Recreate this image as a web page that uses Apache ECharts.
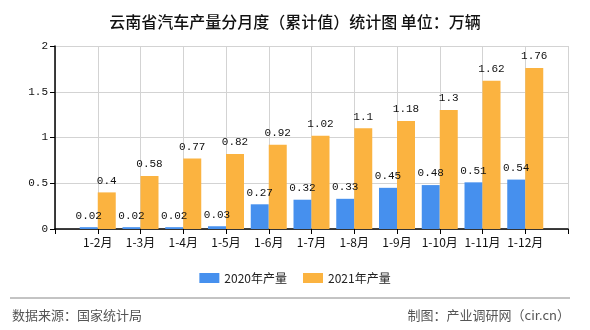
<!DOCTYPE html>
<html><head><meta charset="utf-8">
<script src="https://cdn.jsdelivr.net/npm/echarts@6/dist/echarts.min.js"></script>
<style>html,body{margin:0;padding:0;background:#fff}#c{width:590px;height:330px}</style>
</head><body><div id="c"></div>
<script>
var months = ['1-2月','1-3月','1-4月','1-5月','1-6月','1-7月','1-8月','1-9月','1-10月','1-11月','1-12月'];
var prod2020 = [0.02,0.02,0.02,0.03,0.27,0.32,0.33,0.45,0.48,0.51,0.54];
var prod2021 = [0.4,0.58,0.77,0.82,0.92,1.02,1.1,1.18,1.3,1.62,1.76];
var yTicks = [0,0.5,1,1.5,2];
var seriesNames = ['2020年产量','2021年产量'];

var cats = [''].concat(months).concat(['']);
function pad(a){ return [null].concat(a).concat([null]); }
var mono = 'Liberation Mono';
var cjk = '"Noto Sans CJK SC", sans-serif';
var chart = echarts.init(document.getElementById('c'));
chart.setOption({
  animation:false,
  title:{text:'云南省汽车产量分月度（累计值）统计图 单位：万辆',left:'center',top:9,
    textStyle:{fontFamily:cjk,fontSize:16,fontWeight:500,color:'#111'}},
  grid:{left:55,right:22,top:46,bottom:101},
  legend:{top:267,left:'center',icon:'rect',itemWidth:20,itemHeight:10,itemGap:16,
    textStyle:{fontFamily:cjk,fontSize:12,color:'#222'},data:seriesNames},
  xAxis:{type:'category',data:cats,boundaryGap:false,
    axisLine:{lineStyle:{color:'#000',width:1.5}},
    axisTick:{show:true,length:5,lineStyle:{color:'#000'}},
    axisLabel:{fontFamily:cjk,fontSize:12,color:'#111',margin:7,interval:0},
    splitLine:{show:true,lineStyle:{color:'#d3d3d3'}}},
  yAxis:{type:'value',min:yTicks[0],max:yTicks[yTicks.length-1],interval:0.5,
    axisLine:{show:true,lineStyle:{color:'#000',width:1.5}},
    axisTick:{show:true,length:5,lineStyle:{color:'#000'}},
    axisLabel:{fontFamily:mono,fontSize:11,color:'#111',margin:7},
    splitLine:{show:true,lineStyle:{color:'#d3d3d3'}}},
  series:[
    {name:seriesNames[0],type:'bar',data:pad(prod2020),barWidth:18,barGap:'0%',
     itemStyle:{color:'#4690ee'},
     label:{show:true,position:'top',fontFamily:mono,fontSize:11,color:'#111',distance:6}},
    {name:seriesNames[1],type:'bar',data:pad(prod2021),barWidth:18,barGap:'0%',
     itemStyle:{color:'#fbb340'},
     label:{show:true,position:'top',fontFamily:mono,fontSize:11,color:'#111',distance:6}}
  ],
  graphic:[
    {type:'line',shape:{x1:10,y1:298,x2:570,y2:298},style:{stroke:'#888',lineWidth:1}},
    {type:'text',left:12,top:309,style:{text:'数据来源：国家统计局',font:'13px "Noto Sans CJK SC"',fill:'#555'}},
    {type:'text',right:20,top:309,style:{text:'制图：产业调研网（cir.cn）',font:'13px "Noto Sans CJK SC"',fill:'#555'}}
  ]
});
</script></body></html>
